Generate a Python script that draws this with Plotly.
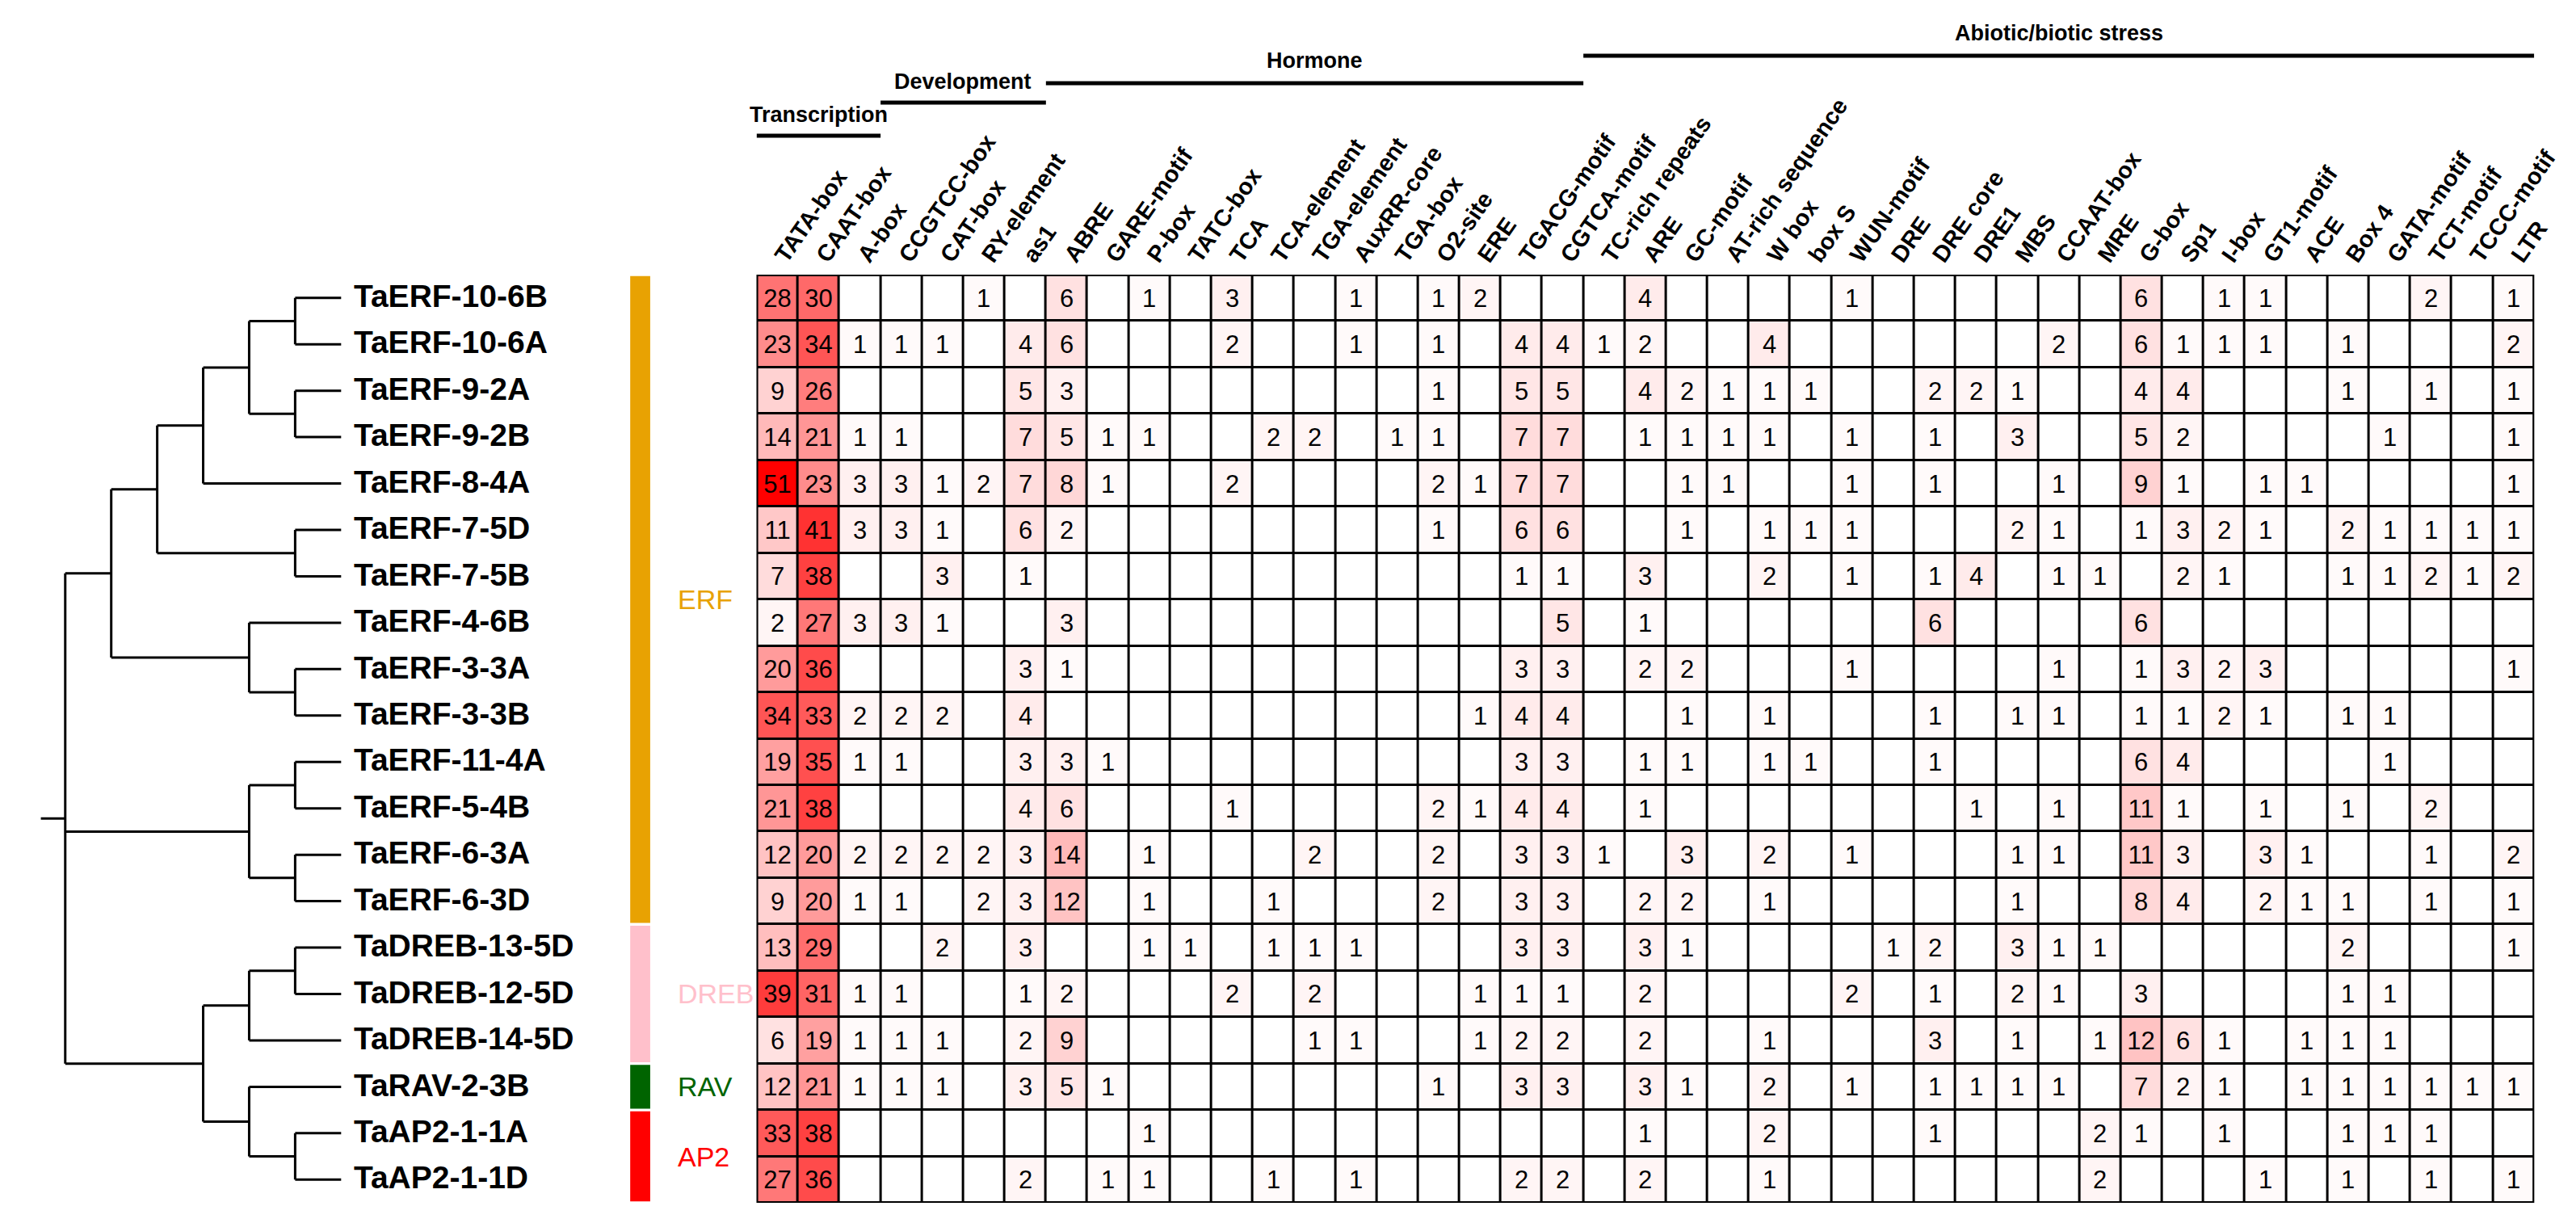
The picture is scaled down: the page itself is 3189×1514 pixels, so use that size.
import plotly.graph_objects as go

W, H = 3189, 1514
FONT = "Arial, Liberation Sans, sans-serif"

# ---------------- data ----------------
motifs = ["TATA-box", "CAAT-box", "A-box", "CCGTCC-box", "CAT-box", "RY-element", "as1",
          "ABRE", "GARE-motif", "P-box", "TATC-box", "TCA", "TCA-element", "TGA-element",
          "AuxRR-core", "TGA-box", "O2-site", "ERE", "TGACG-motif", "CGTCA-motif",
          "TC-rich repeats", "ARE", "GC-motif", "AT-rich sequence", "W box", "box S",
          "WUN-motif", "DRE", "DRE core", "DRE1", "MBS", "CCAAT-box", "MRE", "G-box", "Sp1",
          "I-box", "GT1-motif", "ACE", "Box 4", "GATA-motif", "TCT-motif", "TCCC-motif", "LTR"]

genes = ["TaERF-10-6B", "TaERF-10-6A", "TaERF-9-2A", "TaERF-9-2B", "TaERF-8-4A", "TaERF-7-5D",
         "TaERF-7-5B", "TaERF-4-6B", "TaERF-3-3A", "TaERF-3-3B", "TaERF-11-4A", "TaERF-5-4B",
         "TaERF-6-3A", "TaERF-6-3D", "TaDREB-13-5D", "TaDREB-12-5D", "TaDREB-14-5D",
         "TaRAV-2-3B", "TaAP2-1-1A", "TaAP2-1-1D"]

groups = ["ERF", "DREB", "RAV", "AP2"]
group_sizes = [14, 3, 1, 2]
group_colors = ["#E8A202", "#FFC0CB", "#006400", "#FF0000"]

categories = ["Transcription", "Development", "Hormone", "Abiotic/biotic stress"]
category_first = ["TATA-box", "CCGTCC-box", "ABRE", "TC-rich repeats"]
category_last = ["A-box", "as1", "CGTCA-motif", "LTR"]

TaERF_10_6B = {"TATA-box": 28, "CAAT-box": 30, "RY-element": 1, "ABRE": 6, "P-box": 1, "TCA": 3,
               "AuxRR-core": 1, "O2-site": 1, "ERE": 2, "ARE": 4, "WUN-motif": 1, "G-box": 6,
               "I-box": 1, "GT1-motif": 1, "TCT-motif": 2, "LTR": 1}
TaERF_10_6A = {"TATA-box": 23, "CAAT-box": 34, "A-box": 1, "CCGTCC-box": 1, "CAT-box": 1, "as1": 4,
               "ABRE": 6, "TCA": 2, "AuxRR-core": 1, "O2-site": 1, "TGACG-motif": 4, "CGTCA-motif": 4,
               "TC-rich repeats": 1, "ARE": 2, "W box": 4, "CCAAT-box": 2, "G-box": 6, "Sp1": 1,
               "I-box": 1, "GT1-motif": 1, "Box 4": 1, "LTR": 2}
TaERF_9_2A = {"TATA-box": 9, "CAAT-box": 26, "as1": 5, "ABRE": 3, "O2-site": 1, "TGACG-motif": 5,
              "CGTCA-motif": 5, "ARE": 4, "GC-motif": 2, "AT-rich sequence": 1, "W box": 1, "box S": 1,
              "DRE core": 2, "DRE1": 2, "MBS": 1, "G-box": 4, "Sp1": 4, "Box 4": 1, "TCT-motif": 1,
              "LTR": 1}
TaERF_9_2B = {"TATA-box": 14, "CAAT-box": 21, "A-box": 1, "CCGTCC-box": 1, "as1": 7, "ABRE": 5,
              "GARE-motif": 1, "P-box": 1, "TCA-element": 2, "TGA-element": 2, "TGA-box": 1,
              "O2-site": 1, "TGACG-motif": 7, "CGTCA-motif": 7, "ARE": 1, "GC-motif": 1,
              "AT-rich sequence": 1, "W box": 1, "WUN-motif": 1, "DRE core": 1, "MBS": 3, "G-box": 5,
              "Sp1": 2, "GATA-motif": 1, "LTR": 1}
TaERF_8_4A = {"TATA-box": 51, "CAAT-box": 23, "A-box": 3, "CCGTCC-box": 3, "CAT-box": 1,
              "RY-element": 2, "as1": 7, "ABRE": 8, "GARE-motif": 1, "TCA": 2, "O2-site": 2, "ERE": 1,
              "TGACG-motif": 7, "CGTCA-motif": 7, "GC-motif": 1, "AT-rich sequence": 1, "WUN-motif": 1,
              "DRE core": 1, "CCAAT-box": 1, "G-box": 9, "Sp1": 1, "GT1-motif": 1, "ACE": 1, "LTR": 1}
TaERF_7_5D = {"TATA-box": 11, "CAAT-box": 41, "A-box": 3, "CCGTCC-box": 3, "CAT-box": 1, "as1": 6,
              "ABRE": 2, "O2-site": 1, "TGACG-motif": 6, "CGTCA-motif": 6, "GC-motif": 1, "W box": 1,
              "box S": 1, "WUN-motif": 1, "MBS": 2, "CCAAT-box": 1, "G-box": 1, "Sp1": 3, "I-box": 2,
              "GT1-motif": 1, "Box 4": 2, "GATA-motif": 1, "TCT-motif": 1, "TCCC-motif": 1, "LTR": 1}
TaERF_7_5B = {"TATA-box": 7, "CAAT-box": 38, "CAT-box": 3, "as1": 1, "TGACG-motif": 1,
              "CGTCA-motif": 1, "ARE": 3, "W box": 2, "WUN-motif": 1, "DRE core": 1, "DRE1": 4,
              "CCAAT-box": 1, "MRE": 1, "Sp1": 2, "I-box": 1, "Box 4": 1, "GATA-motif": 1,
              "TCT-motif": 2, "TCCC-motif": 1, "LTR": 2}
TaERF_4_6B = {"TATA-box": 2, "CAAT-box": 27, "A-box": 3, "CCGTCC-box": 3, "CAT-box": 1, "ABRE": 3,
              "CGTCA-motif": 5, "ARE": 1, "DRE core": 6, "G-box": 6}
TaERF_3_3A = {"TATA-box": 20, "CAAT-box": 36, "as1": 3, "ABRE": 1, "TGACG-motif": 3,
              "CGTCA-motif": 3, "ARE": 2, "GC-motif": 2, "WUN-motif": 1, "CCAAT-box": 1, "G-box": 1,
              "Sp1": 3, "I-box": 2, "GT1-motif": 3, "LTR": 1}
TaERF_3_3B = {"TATA-box": 34, "CAAT-box": 33, "A-box": 2, "CCGTCC-box": 2, "CAT-box": 2, "as1": 4,
              "ERE": 1, "TGACG-motif": 4, "CGTCA-motif": 4, "GC-motif": 1, "W box": 1, "DRE core": 1,
              "MBS": 1, "CCAAT-box": 1, "G-box": 1, "Sp1": 1, "I-box": 2, "GT1-motif": 1, "Box 4": 1,
              "GATA-motif": 1}
TaERF_11_4A = {"TATA-box": 19, "CAAT-box": 35, "A-box": 1, "CCGTCC-box": 1, "as1": 3, "ABRE": 3,
               "GARE-motif": 1, "TGACG-motif": 3, "CGTCA-motif": 3, "ARE": 1, "GC-motif": 1,
               "W box": 1, "box S": 1, "DRE core": 1, "G-box": 6, "Sp1": 4, "GATA-motif": 1}
TaERF_5_4B = {"TATA-box": 21, "CAAT-box": 38, "as1": 4, "ABRE": 6, "TCA": 1, "O2-site": 2, "ERE": 1,
              "TGACG-motif": 4, "CGTCA-motif": 4, "ARE": 1, "DRE1": 1, "CCAAT-box": 1, "G-box": 11,
              "Sp1": 1, "GT1-motif": 1, "Box 4": 1, "TCT-motif": 2}
TaERF_6_3A = {"TATA-box": 12, "CAAT-box": 20, "A-box": 2, "CCGTCC-box": 2, "CAT-box": 2,
              "RY-element": 2, "as1": 3, "ABRE": 14, "P-box": 1, "TGA-element": 2, "O2-site": 2,
              "TGACG-motif": 3, "CGTCA-motif": 3, "TC-rich repeats": 1, "GC-motif": 3, "W box": 2,
              "WUN-motif": 1, "MBS": 1, "CCAAT-box": 1, "G-box": 11, "Sp1": 3, "GT1-motif": 3,
              "ACE": 1, "TCT-motif": 1, "LTR": 2}
TaERF_6_3D = {"TATA-box": 9, "CAAT-box": 20, "A-box": 1, "CCGTCC-box": 1, "RY-element": 2, "as1": 3,
              "ABRE": 12, "P-box": 1, "TCA-element": 1, "O2-site": 2, "TGACG-motif": 3,
              "CGTCA-motif": 3, "ARE": 2, "GC-motif": 2, "W box": 1, "MBS": 1, "G-box": 8, "Sp1": 4,
              "GT1-motif": 2, "ACE": 1, "Box 4": 1, "TCT-motif": 1, "LTR": 1}
TaDREB_13_5D = {"TATA-box": 13, "CAAT-box": 29, "CAT-box": 2, "as1": 3, "P-box": 1, "TATC-box": 1,
                "TCA-element": 1, "TGA-element": 1, "AuxRR-core": 1, "TGACG-motif": 3,
                "CGTCA-motif": 3, "ARE": 3, "GC-motif": 1, "DRE": 1, "DRE core": 2, "MBS": 3,
                "CCAAT-box": 1, "MRE": 1, "Box 4": 2, "LTR": 1}
TaDREB_12_5D = {"TATA-box": 39, "CAAT-box": 31, "A-box": 1, "CCGTCC-box": 1, "as1": 1, "ABRE": 2,
                "TCA": 2, "TGA-element": 2, "ERE": 1, "TGACG-motif": 1, "CGTCA-motif": 1, "ARE": 2,
                "WUN-motif": 2, "DRE core": 1, "MBS": 2, "CCAAT-box": 1, "G-box": 3, "Box 4": 1,
                "GATA-motif": 1}
TaDREB_14_5D = {"TATA-box": 6, "CAAT-box": 19, "A-box": 1, "CCGTCC-box": 1, "CAT-box": 1, "as1": 2,
                "ABRE": 9, "TGA-element": 1, "AuxRR-core": 1, "ERE": 1, "TGACG-motif": 2,
                "CGTCA-motif": 2, "ARE": 2, "W box": 1, "DRE core": 3, "MBS": 1, "MRE": 1,
                "G-box": 12, "Sp1": 6, "I-box": 1, "ACE": 1, "Box 4": 1, "GATA-motif": 1}
TaRAV_2_3B = {"TATA-box": 12, "CAAT-box": 21, "A-box": 1, "CCGTCC-box": 1, "CAT-box": 1, "as1": 3,
              "ABRE": 5, "GARE-motif": 1, "O2-site": 1, "TGACG-motif": 3, "CGTCA-motif": 3, "ARE": 3,
              "GC-motif": 1, "W box": 2, "WUN-motif": 1, "DRE core": 1, "DRE1": 1, "MBS": 1,
              "CCAAT-box": 1, "G-box": 7, "Sp1": 2, "I-box": 1, "ACE": 1, "Box 4": 1,
              "GATA-motif": 1, "TCT-motif": 1, "TCCC-motif": 1, "LTR": 1}
TaAP2_1_1A = {"TATA-box": 33, "CAAT-box": 38, "P-box": 1, "ARE": 1, "W box": 2, "DRE core": 1,
              "MRE": 2, "G-box": 1, "I-box": 1, "Box 4": 1, "GATA-motif": 1, "TCT-motif": 1}
TaAP2_1_1D = {"TATA-box": 27, "CAAT-box": 36, "as1": 2, "GARE-motif": 1, "P-box": 1,
              "TCA-element": 1, "AuxRR-core": 1, "TGACG-motif": 2, "CGTCA-motif": 2, "ARE": 2,
              "W box": 1, "MRE": 2, "GT1-motif": 1, "Box 4": 1, "TCT-motif": 1, "LTR": 1}

gene_counts = [TaERF_10_6B, TaERF_10_6A, TaERF_9_2A, TaERF_9_2B, TaERF_8_4A, TaERF_7_5D,
               TaERF_7_5B, TaERF_4_6B, TaERF_3_3A, TaERF_3_3B, TaERF_11_4A, TaERF_5_4B,
               TaERF_6_3A, TaERF_6_3D, TaDREB_13_5D, TaDREB_12_5D, TaDREB_14_5D, TaRAV_2_3B,
               TaAP2_1_1A, TaAP2_1_1D]

# dendrogram topology: (node level, children); ints are leaf (gene) indices
tree = (0, [(1, [(2, [(3, [(4, [(5, [0, 1]), (5, [2, 3])]), 4]), (5, [5, 6])]),
                 (4, [7, (5, [8, 9])])]),
            (4, [(5, [10, 11]), (5, [12, 13])]),
            (3, [(4, [(5, [14, 15]), 16]), (4, [17, (5, [18, 19])])])])
LEAF_LEVEL = 6

# ---------------- build ----------------
z = [[g.get(m, 0) for m in motifs] for g in gene_counts]
txt = [[str(v) if v else "" for v in row] for row in z]
nrow, ncol = len(genes), len(motifs)

fig = go.Figure()

fig.add_trace(go.Heatmap(
    z=z, x=list(range(ncol)), y=list(range(nrow)), text=txt, texttemplate="%{text}",
    textfont=dict(family=FONT, size=31, color="black"),
    colorscale=[[0, "#FFFFFF"], [1, "#FF0000"]], zmin=0, zmax=51,
    xgap=3, ygap=3, showscale=False, hoverinfo="skip"))

# dendrogram
dx, dy = [], []
def walk(node):
    if isinstance(node, int):
        return node, LEAF_LEVEL
    lvl, kids = node
    ys = []
    for k in kids:
        ky, kl = walk(k)
        dx.extend([lvl, kl, None]); dy.extend([ky, ky, None])
        ys.append(ky)
    dx.extend([lvl, lvl, None]); dy.extend([min(ys), max(ys), None])
    return (min(ys) + max(ys)) / 2, lvl
root_y, root_lvl = walk(tree)
dx.extend([root_lvl - 0.53, root_lvl, None]); dy.extend([root_y, root_y, None])
fig.add_trace(go.Scatter(x=dx, y=dy, mode="lines", xaxis="x2", yaxis="y",
                         line=dict(color="black", width=3), hoverinfo="skip", showlegend=False))

# layout geometry (pixels)
GX0, GX1, GY0, GY1 = 938, 3161, 332, 1481
def py(p):
    return 1 - p / H

shapes, ann = [], []
# black backing under the heatmap -> grid lines through cell gaps
shapes.append(dict(type="rect", xref="x", yref="y", x0=-0.5, x1=ncol - 0.5, y0=-0.5, y1=nrow - 0.5,
                   fillcolor="black", line=dict(width=0), layer="below"))
# outer border
shapes.append(dict(type="rect", xref="x", yref="y", x0=-0.5, x1=ncol - 0.5, y0=-0.5, y1=nrow - 0.5,
                   line=dict(color="black", width=4)))

# category header lines and titles
line_px = [160, 119, 95, 61]
title_px = [134, 93, 67, 33]
for name, a, b, lp, tp in zip(categories, category_first, category_last, line_px, title_px):
    i0, i1 = motifs.index(a), motifs.index(b)
    shapes.append(dict(type="line", xref="x", yref="paper", x0=i0 - 0.5, x1=i1 + 0.5,
                       y0=py(lp), y1=py(lp), line=dict(color="black", width=5)))
    ann.append(dict(text=name, xref="x", yref="paper", x=(i0 + i1) / 2, y=py(tp),
                    showarrow=False, xanchor="center", yanchor="middle",
                    font=dict(family=FONT, size=27, color="black", weight="bold")))

# gene labels
for i, g in enumerate(genes):
    ann.append(dict(text=g, xref="paper", yref="y", x=432 / W, y=i - 0.04, showarrow=False,
                    xanchor="left", yanchor="middle",
                    font=dict(family=FONT, size=39, color="black", weight="bold")))

# group bars and labels
start = 0
for gname, n, col in zip(groups, group_sizes, group_colors):
    shapes.append(dict(type="rect", xref="paper", yref="y", x0=780 / W, x1=805 / W,
                       y0=start - 0.5 + 0.03, y1=start + n - 0.5 - 0.03,
                       fillcolor=col, line=dict(width=0)))
    ann.append(dict(text=gname, xref="paper", yref="y", x=837 / W, y=start + (n - 1) / 2,
                    showarrow=False, xanchor="left", yanchor="middle",
                    font=dict(family=FONT, size=34, color=col)))
    start += n

fig.update_layout(
    width=W, height=H, autosize=False,
    margin=dict(l=0, r=0, t=0, b=0, pad=0),
    paper_bgcolor="white", plot_bgcolor="white",
    showlegend=False,
    xaxis=dict(domain=[GX0 / W, GX1 / W], range=[-0.5, ncol - 0.5], side="top",
               tickmode="array", tickvals=list(range(ncol)), ticktext=motifs, tickangle=-55,
               tickfont=dict(family=FONT, size=29, color="black", weight="bold"),
               showgrid=False, zeroline=False, showline=False, ticks="", anchor="y"),
    yaxis=dict(domain=[py(GY1), py(GY0)], range=[nrow - 0.5, -0.5], showticklabels=False,
               showgrid=False, zeroline=False, ticks=""),
    xaxis2=dict(domain=[0, GX0 / W], range=[-73.5 / 57.5, (GX0 - 73.5) / 57.5], visible=False,
                anchor="y", showgrid=False, zeroline=False),
    shapes=shapes, annotations=ann,
)

fig.write_html("out.html")
